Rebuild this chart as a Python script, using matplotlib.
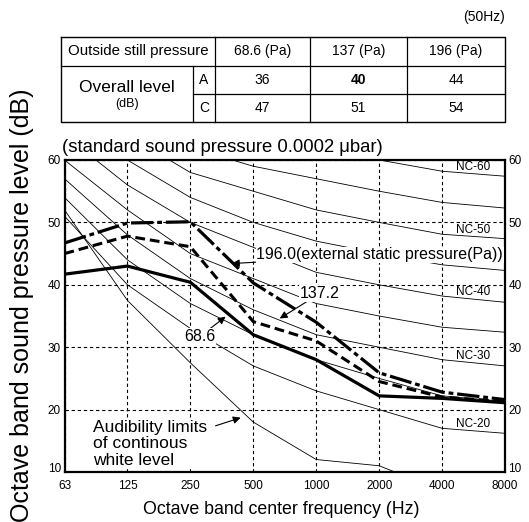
import matplotlib
matplotlib.use('Agg')
import matplotlib.pyplot as plt
import matplotlib.transforms as mtransforms
import numpy as np

plt.rcParams['font.family'] = ['Liberation Sans', 'DejaVu Sans']

# octave band centre frequencies
freqs = ['63', '125', '250', '500', '1000', '2000', '4000', '8000']

# measured sound pressure levels (dB) for each external static pressure
spl_686 = [41.7, 43.0, 40.4, 32.0, 28.0, 22.2, 21.8, 21.1]
spl_1372 = [45.0, 47.8, 46.1, 34.1, 31.0, 24.5, 22.0, 21.3]
spl_1960 = [46.7, 49.9, 50.1, 40.3, 34.0, 25.9, 22.8, 21.6]

# NC reference curves
nc_names = ['NC-60', 'NC-55', 'NC-50', 'NC-45', 'NC-40', 'NC-35', 'NC-30', 'NC-25', 'NC-20']
nc60 = [77, 71, 67, 64, 62, 60, 58.2, 57.4]
nc55 = [74, 67, 62, 59, 57, 55, 53.2, 52.3]
nc50 = [71, 64, 58, 55, 52, 50, 48.1, 47.4]
nc45 = [67, 60, 54, 50, 47, 45, 43.2, 42.3]
nc40 = [64, 56, 50, 46, 42, 40, 38.2, 37.2]
nc35 = [60, 52, 45, 41, 37, 35, 33.2, 32.4]
nc30 = [57, 48, 41, 36, 32, 30, 28.0, 27.0]
nc25 = [54, 44, 37, 32, 28, 25, 22.2, 21.3]
nc20 = [51, 40, 33, 27, 23, 20, 17.0, 16.2]
audibility = [52, 37.5, 27.5, 18, 12, 11, 7, 5]

# table contents
pressures = ['68.6 (Pa)', '137 (Pa)', '196 (Pa)']
level_a = ['36', '40', '44']
level_c = ['47', '51', '54']

W, H = 529, 522
fig = plt.figure(figsize=(W / 100, H / 100), dpi=100)

# main chart
ax = fig.add_axes([64.5 / W, 1 - 472 / H, 440.5 / W, 312 / H])
x = np.arange(len(freqs))

nc_curves = [nc60, nc55, nc50, nc45, nc40, nc35, nc30, nc25, nc20]
for name, vals in zip(nc_names, nc_curves):
    ax.plot(x, vals, color='black', lw=0.6, zorder=2)
    if name in ('NC-60', 'NC-50', 'NC-40', 'NC-30', 'NC-20'):
        xl = 6.5
        yl = np.interp(xl, x, vals)
        ax.text(xl, yl + 0.15, name, fontsize=8.5, ha='center', va='bottom', zorder=3)
ax.plot(x, audibility, color='black', lw=0.6, zorder=2)

ax.plot(x, spl_686, color='black', lw=2.3, solid_joinstyle='miter', zorder=4)
ax.plot(x, spl_1372, color='black', lw=2.2, dashes=(3.2, 1.6), zorder=4)
ax.plot(x, spl_1960, color='black', lw=2.3, dashes=(7, 1.2, 1.5, 1.2), zorder=4)

ax.set_xlim(0, 7)
ax.set_ylim(10, 60)
ax.set_xticks(x)
ax.set_xticklabels(freqs)
ax.set_yticks([10, 20, 30, 40, 50, 60])
ax.tick_params(length=0, labelsize=8.5, labelright=True)
ax.tick_params(axis='x', pad=6)
ax.tick_params(axis='y', pad=2.5)
ax.grid(True, color='black', lw=0.8, dashes=(3, 2.5))
for s in ax.spines.values():
    s.set_linewidth(1.6)

# lift the bottom "10" labels a little, as in the original
lift = mtransforms.ScaledTranslation(0, 4 / 100, fig.dpi_scale_trans)
ytk = ax.yaxis.get_major_ticks()[0]
ytk.label1.set_transform(ytk.label1.get_transform() + lift)
ytk.label2.set_transform(ytk.label2.get_transform() + lift)

arrow = dict(arrowstyle='-|>', color='black', lw=0.8, mutation_scale=11, shrinkA=0, shrinkB=0)
box = dict(facecolor='white', edgecolor='none', pad=0.5)
ax.annotate('196.0(external static pressure(Pa))', xy=(2.66, 43.4), xytext=(3.05, 44.8),
            fontsize=11.5, va='center', ha='left', arrowprops=arrow, bbox=box, zorder=5)
ax.annotate('137.2', xy=(3.42, 34.6), xytext=(3.74, 38.6),
            fontsize=11.5, va='center', ha='left', arrowprops=arrow, bbox=box, zorder=5)
ax.annotate('68.6', xy=(2.56, 34.9), xytext=(2.15, 31.7),
            fontsize=11.5, va='center', ha='center', arrowprops=arrow, bbox=box, zorder=5)
ax.annotate('', xy=(2.80, 18.7), xytext=(2.40, 17.4), arrowprops=arrow, zorder=5)
ax.text(0.45, 18.3, 'Audibility limits\nof continous\nwhite level', fontsize=12.5,
        va='top', ha='left', linespacing=1.1, bbox=box, zorder=5)

ax.set_title('(standard sound pressure 0.0002 \u03bcbar)', fontsize=13.3, loc='left',
             x=-0.005, pad=6)
fig.text(281 / W, 1 - 510 / H, 'Octave band center frequency (Hz)', fontsize=12.8,
         ha='center', va='center')
fig.text(22 / W, 1 - 305 / H, 'Octave band sound pressure level (dB)', fontsize=18,
         ha='center', va='center', rotation=90)

# table on top (pixel coordinates)
tb = fig.add_axes([0, 0, 1, 1])
tb.set_xlim(0, W)
tb.set_ylim(H, 0)
tb.axis('off')
left, right = 61, 505
rows = [37, 66, 94, 122]
cols = [215, 310, 407]
tb.plot([left, right, right, left, left], [rows[0], rows[0], rows[3], rows[3], rows[0]],
        color='black', lw=1.0)
tb.plot([left, right], [rows[1], rows[1]], color='black', lw=0.9)
tb.plot([193, right], [rows[2], rows[2]], color='black', lw=0.9)
for c in cols:
    tb.plot([c, c], [rows[0], rows[3]], color='black', lw=0.9)
tb.plot([193, 193], [rows[1], rows[3]], color='black', lw=0.9)

tb.text(right, 17, '(50Hz)', fontsize=10, ha='right', va='center')
tb.text((left + 215) / 2, 51.5, 'Outside still pressure', fontsize=10.8, ha='center', va='center')
centers = [(215 + 310) / 2, (310 + 407) / 2, (407 + right) / 2]
for cx, p, a, c in zip(centers, pressures, level_a, level_c):
    tb.text(cx, 51.5, p, fontsize=10, ha='center', va='center')
    tb.text(cx, 80, a, fontsize=10, ha='center', va='center',
            fontweight='bold' if a == '40' else 'normal')
    tb.text(cx, 108, c, fontsize=10, ha='center', va='center')
tb.text(204, 80, 'A', fontsize=10, ha='center', va='center')
tb.text(204, 108, 'C', fontsize=10, ha='center', va='center')
tb.text(127, 87, 'Overall level', fontsize=12.5, ha='center', va='center')
tb.text(127, 104, '(dB)', fontsize=9, ha='center', va='center')

fig.savefig('out.png', dpi=100)
